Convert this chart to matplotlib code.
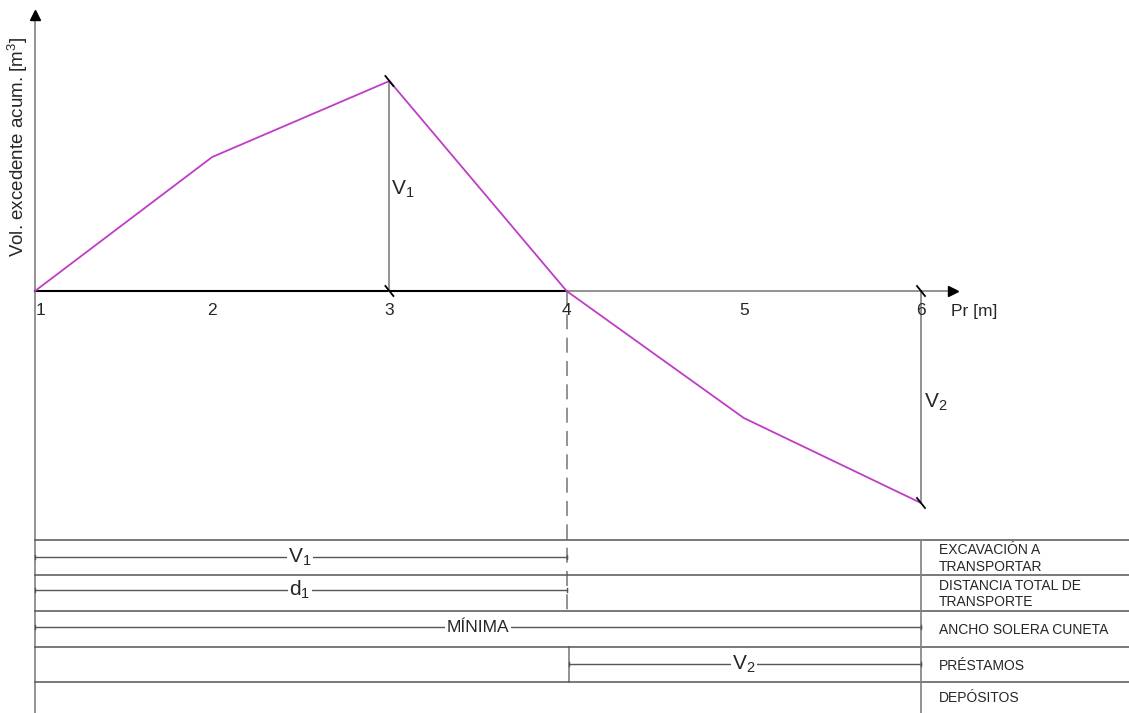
#!/usr/bin/env python3
"""Mass-haul style diagram: accumulated excess volume vs station, with table."""
import numpy as np
import matplotlib
matplotlib.use("Agg")
import matplotlib.pyplot as plt

plt.rcParams["font.family"] = ["Liberation Sans", "DejaVu Sans"]
plt.rcParams["mathtext.fontset"] = "custom"
plt.rcParams["mathtext.rm"] = "Liberation Sans"
plt.rcParams["mathtext.it"] = "Liberation Sans"

# --- data -----------------------------------------------------------------
stations = [1, 2, 3, 4, 5, 6]
vol_acum = [0, 134, 210, 0, -127, -212]          # accumulated excess volume
station_labels = ["1", "2", "3", "4", "5", "6"]
row_labels = ["EXCAVACIÓN A\nTRANSPORTAR", "DISTANCIA TOTAL DE\nTRANSPORTE",
              "ANCHO SOLERA CUNETA", "PRÉSTAMOS", "DEPÓSITOS"]

# --- layout (pixel grid of the sheet) ----------------------------------------
W, H = 1129, 713
X0, DX = 35, 177.2          # pixel of station 1, pixels per station
Y0 = 291                    # pixel row of zero volume
def sx(px): return 1 + (px - X0) / DX
def sy(py): return Y0 - py

GRAY, DARK, MAG = "#808080", "#262626", "#c03cc6"

fig = plt.figure(figsize=(W / 100, H / 100), dpi=100)
ax = fig.add_axes([0, 0, 1, 1])
ax.set_xlim(sx(0), sx(W)); ax.set_ylim(sy(H), sy(0))
ax.axis("off")

# axes
ax.plot([sx(X0), sx(X0)], [sy(H), sy(18)], color=GRAY, lw=1.2)
ax.plot(sx(X0), sy(15), marker="^", color="k", ms=7)
ax.plot([1, 4], [0, 0], color="k", lw=1.5)
ax.plot([4, sx(950)], [0, 0], color=GRAY, lw=1.2)
ax.plot(sx(953), 0, marker=">", color="k", ms=7)
ax.text(sx(18), sy(147), "Vol. excedente acum. [m$^3$]", rotation=90,
        ha="center", va="center", fontsize=13.5, color=DARK)
ax.text(sx(951), sy(311), "Pr [m]", ha="left", va="center", fontsize=12.5, color=DARK)
for s, lab in zip(stations, station_labels):
    ax.text(s + (0.03 if s == 1 else 0), sy(310), lab, ha="center", va="center",
            fontsize=12.5, color=DARK)

# vertical guide lines
ax.plot([3, 3], [0, vol_acum[2]], color=GRAY, lw=1.2)
ax.plot([6, 6], [0, vol_acum[5]], color=GRAY, lw=1.2)
ax.plot([4, 4], [0, sy(611)], color=GRAY, lw=1.2, ls=(0, (9, 5)))
ax.plot([sx(569), sx(569)], [sy(647), sy(682)], color=GRAY, lw=1.2)
ax.text(sx(391), sy(189), "V$_1$", ha="left", va="center", fontsize=15, color=DARK)
ax.text(sx(924), sy(402), "V$_2$", ha="left", va="center", fontsize=15, color=DARK)

# profile
ax.plot(stations, vol_acum, color=MAG, lw=1.3)

# slash ticks at dimension ends
for s, v in [(3, vol_acum[2]), (3, 0), (6, 0), (6, vol_acum[5])]:
    ax.plot([s - 4 / DX, s + 4 / DX], [v + 5, v - 5], color="k", lw=1.3)

# table
rows = [540, 575, 611, 647, 682]
for r in rows:
    ax.plot([sx(X0), sx(W)], [sy(r), sy(r)], color="#555555", lw=1.1)
ax.plot([6, 6], [sy(540), sy(H)], color=GRAY, lw=1.2)
for i, (r, lab) in enumerate(zip(rows, row_labels)):
    nxt = rows[i + 1] if i + 1 < len(rows) else H
    ax.text(sx(939), sy((r + nxt) / 2 + 1), lab, ha="left", va="center",
            fontsize=10, color=DARK, linespacing=1.25)

def dim(y, x1, x2, label, xl, size=15):
    ax.plot([x1, x2], [y, y], color="#555555", lw=1.0)
    for xe in (x1, x2):
        ax.plot([xe, xe], [y - 2, y + 2], color="#555555", lw=1.0)
    ax.text(xl, y, label, ha="center", va="center", fontsize=size, color=DARK,
            bbox=dict(facecolor="white", edgecolor="none", pad=1))

dim(sy(557), 1, 4, "V$_1$", sx(300))
dim(sy(590), 1, 4, "d$_1$", sx(300))
dim(sy(627), 1, 6, "MÍNIMA", sx(478), size=12.5)
dim(sy(664), sx(569), 6, "V$_2$", sx(744))

fig.savefig("out.png", dpi=100, facecolor="white")
